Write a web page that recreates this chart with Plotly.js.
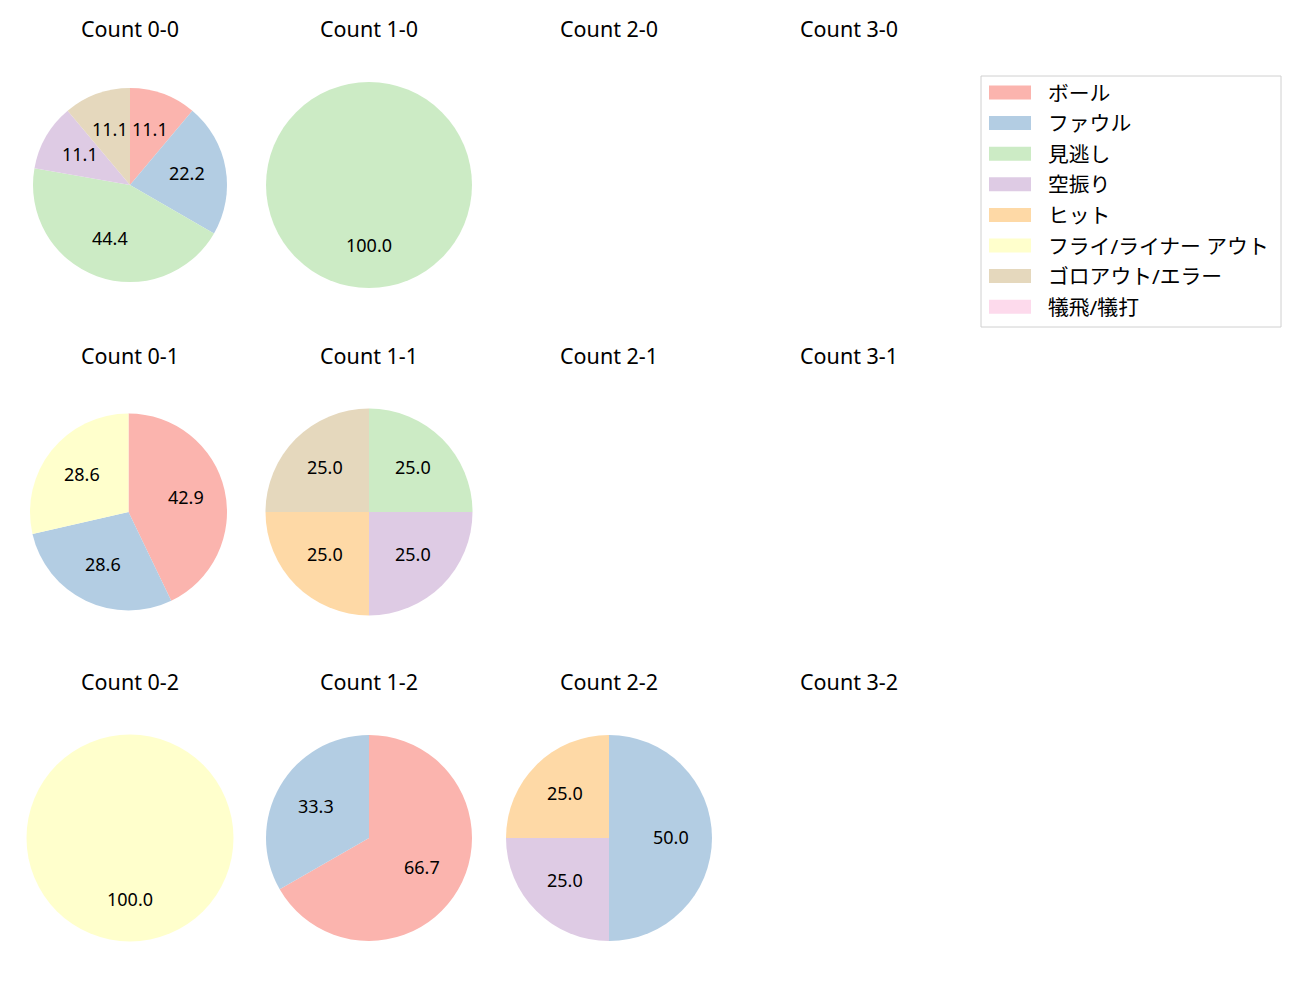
<!DOCTYPE html>
<html>
<head>
<meta charset="utf-8">
<script src="https://cdn.plot.ly/plotly-3.0.1.min.js"></script>
<style>html,body{margin:0;padding:0;background:#fff;}</style>
</head>
<body>
<div id="chart" style="width:1300px;height:1000px;"></div>
<script>
// ---- data ----
const categories = ['ボール','ファウル','見逃し','空振り','ヒット','フライ/ライナー アウト','ゴロアウト/エラー','犠飛/犠打'];
const colors = ['#fbb4ae','#b3cde3','#ccebc5','#decbe4','#fed9a6','#ffffcc','#e5d8bd','#fddaec'];
const panelTitles = ['Count 0-0','Count 1-0','Count 2-0','Count 3-0',
                     'Count 0-1','Count 1-1','Count 2-1','Count 3-1',
                     'Count 0-2','Count 1-2','Count 2-2','Count 3-2'];
// percentage shares per category (order as categories), null = no pitches
const count00 = [11.1, 22.2, 44.4, 11.1, 0, 0, 11.1, 0];
const count10 = [0, 0, 100.0, 0, 0, 0, 0, 0];
const count20 = null;
const count30 = null;
const count01 = [42.9, 28.6, 0, 0, 0, 28.6, 0, 0];
const count11 = [0, 0, 25.0, 25.0, 25.0, 0, 25.0, 0];
const count21 = null;
const count31 = null;
const count02 = [0, 0, 0, 0, 0, 100.0, 0, 0];
const count12 = [66.7, 33.3, 0, 0, 0, 0, 0, 0];
const count22 = [0, 50.0, 0, 25.0, 25.0, 0, 0, 0];
const count32 = null;
const panelValues = [count00,count10,count20,count30,count01,count11,count21,count31,count02,count12,count22,count32];

// ---- layout constants (pixels) ----
const W = 1300, H = 1000;
const colX = [130, 369, 609, 849];
const rowY = [185, 512, 838];
const titleY = [29, 356, 682];
const radii = [97, 103, 103, 103, 98.5, 103.5, 103, 103, 103.5, 103, 103, 103];
const LATIN = '"Noto Sans", "Noto Sans CJK JP", sans-serif';
const CJK = '"Noto Sans", "Noto Sans CJK JP", sans-serif';

const px2x = p => p / W;
const px2y = p => 1 - p / H;

const traces = [];
const annotations = [];
const shapes = [];

panelValues.forEach((vals, i) => {
  const col = i % 4, row = Math.floor(i / 4);
  const cx = colX[col] + (i === 4 ? -1.5 : 0), cy = rowY[row];
  annotations.push({
    text: panelTitles[i], xref: 'paper', yref: 'paper',
    x: px2x(colX[col]), y: px2y(titleY[row]), xanchor: 'center', yanchor: 'middle', yshift: 1,
    showarrow: false, font: {family: LATIN, size: 21.5, color: '#000'}
  });
  if (!vals) return;
  const r = radii[i];
  const labs = [], vs = [], cs = [];
  vals.forEach((v, k) => { if (v > 0) { labs.push(categories[k]); vs.push(v); cs.push(colors[k]); } });
  traces.push({
    type: 'pie', labels: labs, values: vs, sort: false, direction: 'clockwise', rotation: 0,
    marker: {colors: cs, line: {width: 0}}, textinfo: 'none', showlegend: false,
    domain: {x: [px2x(cx - r), px2x(cx + r)], y: [px2y(cy + r), px2y(cy - r)]},
    hovertemplate: '%{label}: %{value:.1f}<extra></extra>'
  });
  // percentage labels at 0.6 radius (matplotlib pctdistance)
  const total = vs.reduce((a, b) => a + b, 0);
  let cum = 0;
  vs.forEach(v => {
    const mid = (90 - 360 * (cum + v / 2) / total) * Math.PI / 180;
    cum += v;
    annotations.push({
      text: v.toFixed(1), xref: 'paper', yref: 'paper',
      x: px2x(cx + 0.6 * r * Math.cos(mid)), y: px2y(cy - 0.6 * r * Math.sin(mid)),
      xanchor: 'center', yanchor: 'middle', yshift: 1.5, showarrow: false,
      font: {family: LATIN, size: 18, color: '#000'}
    });
  });
});

// ---- legend (matplotlib style) ----
const legBox = {x0: 981, x1: 1281, y0: 76, y1: 327};
shapes.push({type: 'rect', xref: 'paper', yref: 'paper', x0: px2x(legBox.x0), x1: px2x(legBox.x1),
  y0: px2y(legBox.y1), y1: px2y(legBox.y0), line: {color: '#d0d0d0', width: 1}, fillcolor: '#fff', layer: 'below'});
categories.forEach((c, k) => {
  const yc = 92.5 + k * 30.6;
  shapes.push({type: 'rect', xref: 'paper', yref: 'paper', x0: px2x(989), x1: px2x(1031),
    y0: px2y(yc + 7), y1: px2y(yc - 7), line: {width: 0}, fillcolor: colors[k]});
  annotations.push({text: c, xref: 'paper', yref: 'paper', x: px2x(1046), y: px2y(yc), yshift: 0,
    xanchor: 'left', yanchor: 'middle', showarrow: false, font: {family: CJK, size: 20.8, color: '#000'}});
});

Plotly.newPlot('chart', traces, {
  width: W, height: H, margin: {l: 0, r: 0, t: 0, b: 0},
  paper_bgcolor: '#fff', plot_bgcolor: '#fff', showlegend: false,
  annotations: annotations, shapes: shapes,
  font: {family: LATIN}
}, {displayModeBar: false});
</script>
</body>
</html>
